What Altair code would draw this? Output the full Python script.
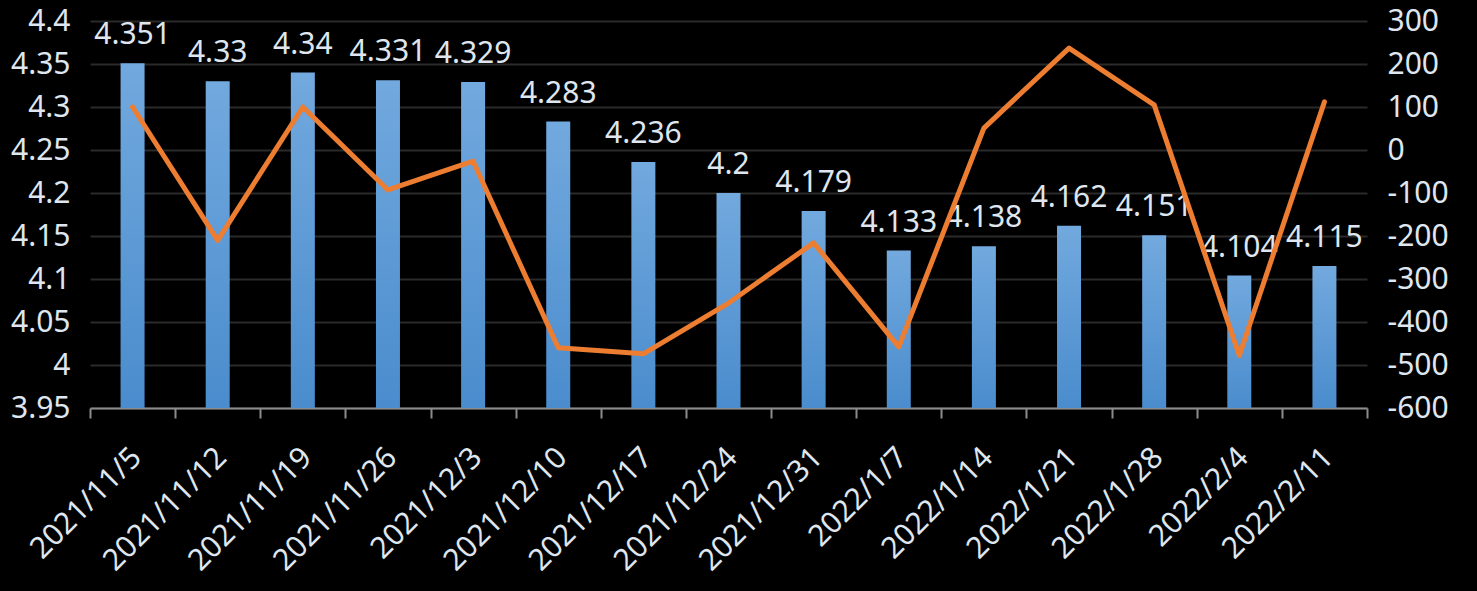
import altair as alt
import pandas as pd

dates = ["2021/11/5", "2021/11/12", "2021/11/19", "2021/11/26", "2021/12/3",
         "2021/12/10", "2021/12/17", "2021/12/24", "2021/12/31", "2022/1/7",
         "2022/1/14", "2022/1/21", "2022/1/28", "2022/2/4", "2022/2/11"]
bar_values = [4.351, 4.33, 4.34, 4.331, 4.329, 4.283, 4.236, 4.2, 4.179, 4.133,
              4.138, 4.162, 4.151, 4.104, 4.115]
line_values = [100, -210, 100, -93, -26, -460, -474, -356, -216, -458,
               51, 237, 105, -478, 112]

left_ticks = [3.95, 4, 4.05, 4.1, 4.15, 4.2, 4.25, 4.3, 4.35, 4.4]
right_ticks = [-600, -500, -400, -300, -200, -100, 0, 100, 200, 300]

df = pd.DataFrame({
    "date": dates,
    "bar": bar_values,
    "label": [str(v) for v in bar_values],
    "line": line_values,
})

FONT = "Noto Sans"
TXT = "#dfe6ef"
FS = 30

x = alt.X("date:N", sort=dates, title=None,
          scale=alt.Scale(paddingInner=0, paddingOuter=0),
          axis=alt.Axis(labelAngle=-45, labelColor=TXT, labelFontSize=FS,
                        labelFont=FONT, domainColor="#8c8c8c", domainWidth=2,
                        tickColor="#8c8c8c", tickWidth=2, tickSize=10,
                        tickBand="extent", labelPadding=24, labelOffset=-7))

yscale = alt.Scale(domain=[3.95, 4.4], zero=False, nice=False)
yl = alt.Y("bar:Q", title=None, scale=yscale,
           axis=alt.Axis(values=left_ticks, format="~g", labelColor=TXT,
                         labelFontSize=FS, labelFont=FONT, domain=False,
                         ticks=False, grid=True, gridColor="#2a2a2a",
                         gridWidth=2, labelPadding=20))

bars = alt.Chart(df).mark_bar(
    size=24,
    color=alt.Gradient(gradient="linear",
                       stops=[alt.GradientStop(color="#72a9de", offset=0),
                              alt.GradientStop(color="#4a8ccd", offset=1)],
                       x1=0, x2=0, y1=0, y2=1),
).encode(x=x, y=yl, y2=alt.datum(3.95))

labels = alt.Chart(df).mark_text(
    dy=-19, baseline="alphabetic", fontSize=FS, font=FONT, color=TXT
).encode(x=x, y=yl, text="label:N")

line = alt.Chart(df).mark_line(
    color="#ed7d31", strokeWidth=5, strokeJoin="round", strokeCap="round"
).encode(
    x=x,
    y=alt.Y("line:Q", title=None,
            scale=alt.Scale(domain=[-600, 300], nice=False),
            axis=alt.Axis(orient="right", values=right_ticks,
                          labelExpr="toString(datum.value)",
                          labelColor=TXT, labelFontSize=FS, labelFont=FONT,
                          domain=False, ticks=False, grid=False, labelPadding=20)),
)

left = alt.layer(bars, labels)
chart = alt.layer(left, line).resolve_scale(y="independent").properties(
    width=1277, height=387,
    background="black",
    autosize=alt.AutoSizeParams(type="none"),
    padding={"left": 90, "top": 21, "right": 110, "bottom": 183},
).configure_view(stroke=None)

chart.save("out.html", embed_options={"renderer": "svg", "actions": False})
